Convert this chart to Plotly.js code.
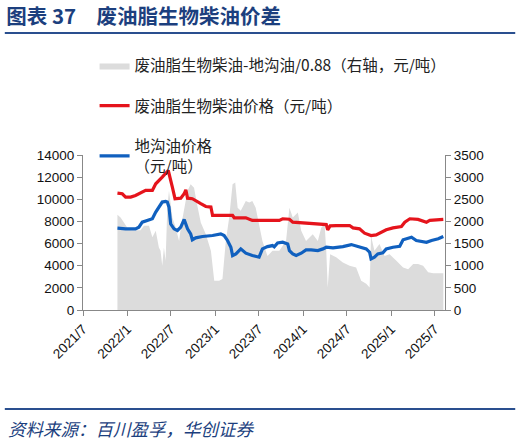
<!DOCTYPE html>
<html><head><meta charset="utf-8">
<script src="https://cdn.plot.ly/plotly-3.0.1.min.js"></script>
<style>html,body{margin:0;padding:0;background:#fff}#chart{width:520px;height:446px}</style>
</head><body><div id="chart"></div>
<script>
const legendNames = ['废油脂生物柴油-地沟油/0.88（右轴，元/吨）','废油脂生物柴油价格（元/吨）','地沟油价格<br>（元/吨）'];
const tickLabels = ['2021/7','2022/1','2022/7','2023/1','2023/7','2024/1','2024/7','2025/1','2025/7'];
const tickDates = ['2021-07-01','2022-01-01','2022-07-01','2023-01-01','2023-07-01','2024-01-01','2024-07-01','2025-01-01','2025-07-01'];

const redDates = ['2021-11-21','2021-12-11','2021-12-25','2022-01-15','2022-02-04','2022-03-04','2022-03-18','2022-04-15','2022-04-29','2022-05-26','2022-06-09','2022-06-20','2022-07-07','2022-07-18','2022-08-11','2022-08-25','2022-09-01','2022-09-08','2022-09-28','2022-10-12','2022-11-02','2022-11-23','2022-12-14','2022-12-21','2023-03-14','2023-03-21','2023-05-08','2023-06-04','2023-09-24','2023-10-08','2023-11-05','2023-11-19','2024-02-10','2024-04-06','2024-04-12','2024-04-22','2024-05-17','2024-07-12','2024-07-26','2024-08-22','2024-09-12','2024-10-09','2024-10-30','2024-11-20','2024-12-11','2025-01-08','2025-02-12','2025-02-26','2025-03-19','2025-04-22','2025-05-06','2025-05-27','2025-06-10','2025-08-05'];
const redVals = [10560,10500,10200,10200,10350,10600,10800,10800,11400,12000,12300,12600,11100,10050,10100,10500,10860,10100,10050,9900,9600,9350,9300,8540,8540,8330,8330,8090,8090,8240,8200,7930,7840,7720,7240,7600,7630,7630,7420,7330,6940,6730,6790,7030,7240,7420,7540,7930,8240,8180,8090,7930,8090,8180];

const blueDates = ['2021-11-21','2021-12-25','2022-02-04','2022-02-18','2022-03-04','2022-04-01','2022-04-15','2022-04-29','2022-05-12','2022-05-26','2022-06-09','2022-06-16','2022-06-23','2022-06-30','2022-07-14','2022-07-28','2022-08-11','2022-08-25','2022-09-08','2022-09-21','2022-09-28','2022-10-12','2022-11-09','2022-12-21','2023-01-24','2023-02-07','2023-02-21','2023-03-07','2023-03-14','2023-03-28','2023-04-17','2023-05-08','2023-06-04','2023-07-02','2023-07-16','2023-08-06','2023-08-27','2023-09-03','2023-09-17','2023-10-08','2023-10-29','2023-11-05','2023-11-19','2023-12-03','2023-12-24','2024-01-13','2024-02-03','2024-03-02','2024-03-23','2024-04-06','2024-05-04','2024-06-14','2024-07-19','2024-08-22','2024-09-19','2024-10-03','2024-10-09','2024-10-23','2024-11-06','2024-11-27','2024-12-11','2025-01-08','2025-02-05','2025-02-19','2025-03-05','2025-03-26','2025-04-15','2025-05-06','2025-05-27','2025-06-17','2025-07-15','2025-08-05'];
const blueVals = [7390,7330,7330,7480,7930,8090,8240,8840,9290,9750,9800,9750,9290,7780,7330,7180,7480,8180,7330,6880,6340,6520,6640,6730,6880,6730,6280,5670,4920,5070,5520,5130,4920,4770,5520,5730,5820,5700,6060,6120,5970,5370,5070,4920,5130,5430,5430,5370,5520,5670,5610,5730,5910,5730,5520,5220,4620,4770,5070,5160,5520,5670,5760,6340,6430,6580,6280,6180,6120,6280,6430,6640];

const spreadDates = ['2021-11-21','2021-12-04','2021-12-18','2022-01-01','2022-01-15','2022-02-25','2022-03-11','2022-04-01','2022-04-15','2022-04-29','2022-05-12','2022-05-19','2022-05-26','2022-06-02','2022-06-09','2022-06-16','2022-06-23','2022-07-07','2022-07-21','2022-08-04','2022-08-11','2022-08-25','2022-09-08','2022-09-21','2022-10-05','2022-10-19','2022-11-02','2022-11-23','2022-12-14','2022-12-28','2023-01-17','2023-01-31','2023-02-14','2023-02-28','2023-03-14','2023-03-25','2023-04-04','2023-04-17','2023-05-08','2023-05-22','2023-06-04','2023-06-18','2023-07-02','2023-07-16','2023-08-06','2023-08-27','2023-09-24','2023-10-22','2023-11-05','2023-11-19','2023-12-10','2023-12-24','2024-01-13','2024-02-10','2024-03-02','2024-03-16','2024-03-30','2024-04-06','2024-04-12','2024-04-22','2024-05-17','2024-06-14','2024-07-12','2024-08-08','2024-08-29','2024-09-19','2024-10-03','2024-10-09','2024-10-23','2024-11-13','2024-12-04','2024-12-25','2025-01-22','2025-02-19','2025-03-12','2025-04-02','2025-04-22','2025-05-13','2025-06-03','2025-06-24','2025-07-28','2025-08-05'];
const spreadVals = [2150,2090,1975,1860,1800,1800,1900,1900,1640,1790,1410,1340,1000,1410,1110,2310,2690,2090,1860,1560,1860,2310,2690,2840,2760,2350,1975,1710,1340,660,660,700,1560,2090,2840,2880,2310,2240,2460,2430,2460,2310,1940,1560,1220,1340,1340,1560,2310,2090,2200,1790,1560,1710,1560,1860,1940,1340,510,1260,1190,1070,1000,960,660,590,510,1670,1340,1490,1220,1260,1110,960,920,1040,1040,1000,850,830,830,830];

const cjk = '"Noto Sans CJK SC", "Liberation Sans", Arial, sans-serif';
const latin = '"Liberation Sans", Arial, sans-serif';

const traces = [
  {x: spreadDates, y: spreadVals, name: legendNames[0], type: 'scatter', mode: 'lines', yaxis: 'y',
   fill: 'tozeroy', fillcolor: '#dcdcdc', line: {width: 0, color: '#dcdcdc'}, legendgroup: 'a'},
  {x: redDates, y: redVals, name: legendNames[1], type: 'scatter', mode: 'lines', yaxis: 'y2',
   line: {color: '#e5141c', width: 3.2}, legendgroup: 'b'},
  {x: blueDates, y: blueVals, name: legendNames[2], type: 'scatter', mode: 'lines', yaxis: 'y2',
   line: {color: '#1060bf', width: 3.2}, legendgroup: 'c'}
];

const axisCommon = {showgrid: false, zeroline: false, showline: true, linecolor: '#888', linewidth: 1,
  ticks: 'outside', ticklen: 5, tickcolor: '#888', tickfont: {family: latin, size: 13.5, color: '#111'}};

const layout = {
  width: 520, height: 446,
  margin: {l: 83, r: 75, t: 155, b: 136},
  paper_bgcolor: '#fff', plot_bgcolor: '#fff',
  showlegend: true,
  legend: {x: 0.032, xanchor: 'left', y: 1.685, yanchor: 'top', bgcolor: 'rgba(0,0,0,0)',
    font: {family: cjk, size: 15.5, color: '#222'}, traceorder: 'grouped', tracegroupgap: 17},
  title: {text: '图表 37　废油脂生物柴油价差', x: 0.012, xref: 'container', xanchor: 'left',
    y: 0.962, yref: 'container', yanchor: 'middle',
    font: {family: cjk, size: 20.5, color: '#1c3f7e', weight: 'bold'}},
  xaxis: Object.assign({}, axisCommon, {type: 'date', range: ['2021-07-01', '2025-08-12'],
    tickvals: tickDates, ticktext: tickLabels, tickangle: -45}),
  yaxis: Object.assign({}, axisCommon, {range: [0, 3500], dtick: 500, side: 'right'}),
  yaxis2: Object.assign({}, axisCommon, {range: [0, 14000], dtick: 2000, tickformat: 'd', overlaying: 'y', side: 'left'}),
  shapes: [
    {type: 'line', xref: 'paper', yref: 'paper', x0: -0.216, x1: 1.194, y0: 1.787, y1: 1.787, line: {color: '#2a4f8f', width: 2}},
    {type: 'line', xref: 'paper', yref: 'paper', x0: -0.216, x1: 1.194, y0: -0.639, y1: -0.639, line: {color: '#2a4f8f', width: 2}}
  ],
  annotations: [
    {text: '资料来源：百川盈孚，华创证券', xref: 'paper', yref: 'paper', x: -0.212, y: -0.762, xanchor: 'left', yanchor: 'middle',
     showarrow: false, font: {family: cjk, size: 17.5, color: '#1c3f7e', style: 'italic'}}
  ]
};

Plotly.newPlot('chart', traces, layout, {displayModeBar: false, staticPlot: true});
</script></body></html>
